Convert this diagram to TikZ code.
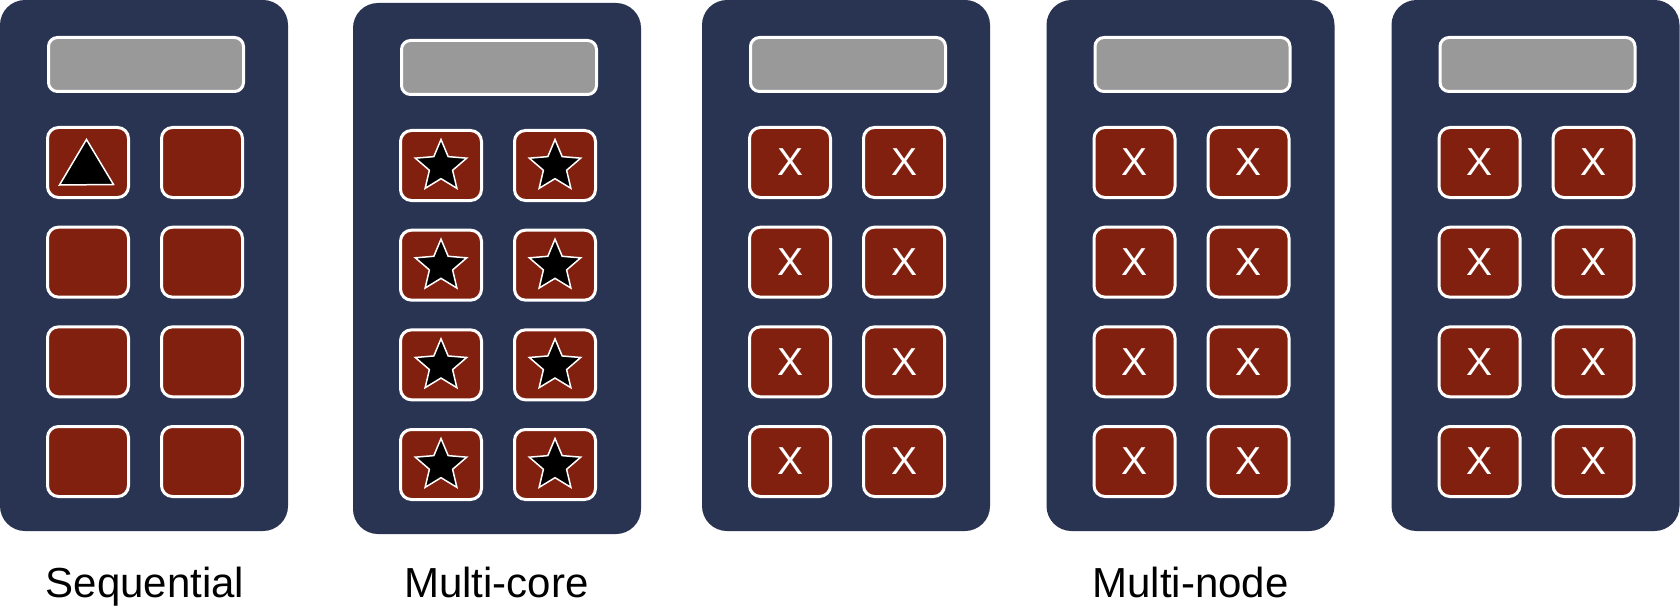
\documentclass[tikz,border=0pt]{standalone}
\usepackage{fontspec}
\setmainfont{Liberation Sans}
\usetikzlibrary{calc}
\definecolor{navy}{RGB}{41,51,82}
\definecolor{keyred}{RGB}{130,32,16}
\definecolor{screengray}{RGB}{153,153,153}
\begin{document}
\begin{tikzpicture}[x=1pt,y=-1pt,
  panel/.style={fill=navy, rounded corners=25pt, minimum width=288pt, minimum height=531pt, inner sep=0pt, outer sep=0pt},
  screen/.style={fill=screengray, draw=white, line width=3pt, rounded corners=9pt, minimum width=195pt, minimum height=54pt, inner sep=0pt},
  keybox/.style={fill=keyred, draw=white, line width=3pt, rounded corners=11pt, minimum width=81pt, minimum height=70pt, inner sep=0pt, text=white, font=\fontsize{39}{39}\selectfont},
  label/.style={font=\fontsize{42}{48}\selectfont, anchor=base, inner sep=0pt},
  glyph/.style={fill=black, draw=white, line width=1.5pt, line join=miter}
]
\useasboundingbox (0,0) rectangle (1680,607);
\foreach \p/\cx/\cy in {1/144/265.5,2/497/268.5,3/846/265.5,4/1190.5/265.5,5/1535.5/265.5}{
  \node[panel] (p\p) at (\cx,\cy) {};
  \node[screen] (s\p) at (\cx+2,\cy-201) {};
  \foreach \c/\dx in {1/-56,2/58}{
    \foreach \r/\dy in {1/-103,2/-3.33,3/96.33,4/196}{
      \ifnum\p>2
        \node[keybox] (k\p\c\r) at (\cx+\dx,\cy+\dy) {X};
      \else
        \node[keybox] (k\p\c\r) at (\cx+\dx,\cy+\dy) {};
      \fi
    }
  }
}
% stars in multi-core
\foreach \c in {1,2}{
  \foreach \r in {1,2,3,4}{
    \begin{scope}[shift={(k2\c\r.center)}, yshift=-1pt]
      \draw[glyph] (-90:27) -- (-54:12.2) -- (-18:27) -- (18:12.2) -- (54:27)
        -- (90:12.2) -- (126:27) -- (162:12.2) -- (198:27) -- (234:12.2) -- cycle;
    \end{scope}
  }
}
% triangle in sequential
\begin{scope}[shift={(k111.center)}]
  \draw[glyph] (-1.5,-23) -- (-28.5,22.5) -- (25.5,22) -- cycle;
\end{scope}
\node[label] (l1) at (145,597) {Sequential};
\node[label] (l2) at (496.5,597) {Multi-core};
\node[label] (l4) at (1190.5,597) {Multi-node};
\end{tikzpicture}
\end{document}
